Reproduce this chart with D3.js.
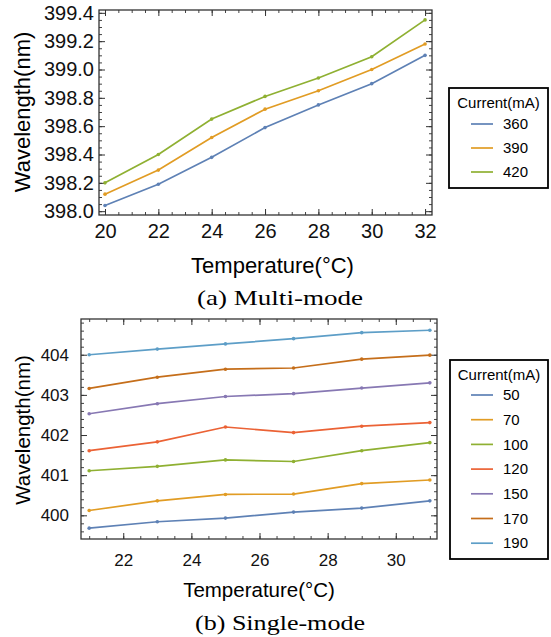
<!DOCTYPE html>
<html>
<head>
<meta charset="utf-8">
<script src="https://cdn.jsdelivr.net/npm/d3@7"></script>
<style>
  body { margin: 0; background: #fff; }
  svg { display: block; }
  .tick text { font-family: "Liberation Sans", Arial, sans-serif; fill: #111; }
</style>
</head>
<body>
<script>
// ---- panel (a) multi-mode ----
var tempsA = [20, 22, 24, 26, 28, 30, 32];
var currentsA = ["360", "390", "420"];
var wl360 = [398.04, 398.19, 398.38, 398.59, 398.75, 398.90, 399.10];
var wl390 = [398.12, 398.29, 398.52, 398.72, 398.85, 399.00, 399.18];
var wl420 = [398.20, 398.40, 398.65, 398.81, 398.94, 399.09, 399.35];
var yTicksA = [398.0, 398.2, 398.4, 398.6, 398.8, 399.0, 399.2, 399.4];
var xTicksA = [20, 22, 24, 26, 28, 30, 32];

// ---- panel (b) single-mode ----
var tempsB = [21, 23, 25, 27, 29, 31];
var currentsB = ["50", "70", "100", "120", "150", "170", "190"];
var wl50  = [399.68, 399.84, 399.93, 400.08, 400.18, 400.36];
var wl70  = [400.12, 400.36, 400.52, 400.53, 400.79, 400.88];
var wl100 = [401.11, 401.22, 401.38, 401.34, 401.61, 401.81];
var wl120 = [401.61, 401.83, 402.20, 402.06, 402.22, 402.31];
var wl150 = [402.53, 402.78, 402.96, 403.03, 403.17, 403.30];
var wl170 = [403.16, 403.44, 403.64, 403.67, 403.89, 403.99];
var wl190 = [404.00, 404.14, 404.27, 404.40, 404.55, 404.61];
var yTicksB = [400, 401, 402, 403, 404];
var xTicksB = [22, 24, 26, 28, 30];

var palette = ["#5E81B5", "#E19C24", "#8FB032", "#EB6235", "#8778B3", "#C56E1A", "#5D9EC7"];

var svg = d3.select("body").append("svg")
    .attr("width", 551)
    .attr("height", 637);

function range(a, b, step) {
  var out = [];
  for (var v = a; v <= b + 1e-9; v += step) out.push(+v.toFixed(4));
  return out;
}

function panel(opt) {
  var x = d3.scaleLinear().domain(opt.xDomain).range([opt.left, opt.right]);
  var y = d3.scaleLinear().domain(opt.yDomain).range([opt.bottom, opt.top]);
  var g = svg.append("g");
  var w = opt.right - opt.left, h = opt.bottom - opt.top;

  var xMinor = range(opt.xMinorStart, opt.xDomain[1], opt.xMinorStep);
  var yMinor = range(opt.yMinorStart, opt.yDomain[1], opt.yMinorStep);

  // minor ticks, all four sides, pointing inward
  var minors = [
    [d3.axisBottom(x).tickValues(xMinor), "translate(0," + opt.bottom + ")"],
    [d3.axisTop(x).tickValues(xMinor), "translate(0," + opt.top + ")"],
    [d3.axisLeft(y).tickValues(yMinor), "translate(" + opt.left + ",0)"],
    [d3.axisRight(y).tickValues(yMinor), "translate(" + opt.right + ",0)"]
  ];
  minors.forEach(function(m) {
    g.append("g").attr("transform", m[1])
      .call(m[0].tickSize(-3).tickFormat(""))
      .call(function(s) { s.select(".domain").remove(); s.selectAll("line").attr("stroke", "#444"); });
  });

  // major ticks with labels
  g.append("g").attr("transform", "translate(0," + opt.bottom + ")")
    .call(d3.axisBottom(x).tickValues(opt.xTicks).tickSize(-6).tickPadding(opt.xPad)
      .tickFormat(d3.format("d")))
    .call(function(s) {
      s.select(".domain").remove();
      s.selectAll("line").attr("stroke", "#333");
      s.selectAll("text").style("font-size", opt.tickFont + "px");
    });
  g.append("g").attr("transform", "translate(0," + opt.top + ")")
    .call(d3.axisTop(x).tickValues(opt.xTicks).tickSize(-6).tickFormat(""))
    .call(function(s) { s.select(".domain").remove(); s.selectAll("line").attr("stroke", "#333"); });
  g.append("g").attr("transform", "translate(" + opt.left + ",0)")
    .call(d3.axisLeft(y).tickValues(opt.yTicks).tickSize(-6).tickPadding(opt.yPad)
      .tickFormat(d3.format(opt.yFormat)))
    .call(function(s) {
      s.select(".domain").remove();
      s.selectAll("line").attr("stroke", "#333");
      s.selectAll("text").style("font-size", opt.tickFont + "px");
    });
  g.append("g").attr("transform", "translate(" + opt.right + ",0)")
    .call(d3.axisRight(y).tickValues(opt.yTicks).tickSize(-6).tickFormat(""))
    .call(function(s) { s.select(".domain").remove(); s.selectAll("line").attr("stroke", "#333"); });

  // frame
  g.append("rect")
    .attr("x", opt.left).attr("y", opt.top)
    .attr("width", w).attr("height", h)
    .attr("fill", "none").attr("stroke", "#333").attr("stroke-width", 1.3);

  // series
  var line = d3.line()
    .x(function(d) { return x(d[0]); })
    .y(function(d) { return y(d[1]); });

  opt.series.forEach(function(vals, i) {
    var pts = opt.temps.map(function(t, j) { return [t, vals[j]]; });
    g.append("path")
      .datum(pts)
      .attr("fill", "none")
      .attr("stroke", palette[i])
      .attr("stroke-width", 1.7)
      .attr("d", line);
    g.selectAll(null).data(pts).enter().append("circle")
      .attr("cx", function(d) { return x(d[0]); })
      .attr("cy", function(d) { return y(d[1]); })
      .attr("r", 1.8)
      .attr("fill", palette[i]);
  });

  // axis labels
  g.append("text")
    .attr("x", (opt.left + opt.right) / 2 + opt.xLabelShift)
    .attr("y", opt.xLabelY)
    .attr("text-anchor", "middle")
    .style("font-family", "Liberation Sans, Arial, sans-serif")
    .style("font-size", opt.labelFont + "px")
    .text("Temperature(°C)");
  g.append("text")
    .attr("transform", "translate(" + opt.yLabelX + "," + opt.yLabelY + ") rotate(-90)")
    .attr("text-anchor", "middle")
    .style("font-family", "Liberation Sans, Arial, sans-serif")
    .style("font-size", opt.labelFont + "px")
    .text("Wavelength(nm)");

  // caption
  g.append("text")
    .attr("x", opt.capX).attr("y", opt.capY)
    .attr("text-anchor", "middle")
    .attr("textLength", opt.capW)
    .attr("lengthAdjust", "spacingAndGlyphs")
    .style("font-family", "Liberation Serif, Times New Roman, serif")
    .style("font-size", "22px")
    .text(opt.caption);

  // legend
  var L = opt.legend;
  g.append("rect")
    .attr("x", L.x).attr("y", L.y).attr("width", L.w).attr("height", L.h)
    .attr("fill", "#fff").attr("stroke", "#000").attr("stroke-width", 1.8);
  g.append("text")
    .attr("x", L.x + L.w / 2).attr("y", L.titleY)
    .attr("text-anchor", "middle")
    .style("font-family", "Liberation Sans, Arial, sans-serif")
    .style("font-size", "15px")
    .text("Current(mA)");
  var rows = g.selectAll(null).data(opt.names).enter().append("g")
    .attr("transform", function(d, i) { return "translate(0," + (L.row0 + i * L.rowStep) + ")"; });
  rows.append("line")
    .attr("x1", 471).attr("x2", 493)
    .attr("stroke", function(d, i) { return palette[i]; })
    .attr("stroke-width", 1.7);
  rows.append("text")
    .attr("x", 503).attr("dy", "0.35em")
    .style("font-family", "Liberation Sans, Arial, sans-serif")
    .style("font-size", "15px")
    .text(function(d) { return d; });
}

panel({
  left: 99, right: 432, top: 10, bottom: 215,
  xDomain: [19.775, 32.26], yDomain: [397.973, 399.42],
  xTicks: xTicksA, yTicks: yTicksA, yFormat: ".1f",
  xMinorStart: 20, xMinorStep: 0.5, yMinorStart: 398.0, yMinorStep: 0.05,
  tickFont: 20, xPad: 9, yPad: 5, labelFont: 22,
  xLabelY: 273, xLabelShift: 7, yLabelX: 30, yLabelY: 112,
  temps: tempsA, series: [wl360, wl390, wl420], names: currentsA,
  caption: "(a) Multi-mode", capX: 280, capY: 305, capW: 166,
  legend: { x: 449, y: 88, w: 99, h: 100, titleY: 108, row0: 124, rowStep: 24 }
});

panel({
  left: 81, right: 437, top: 319, bottom: 539,
  xDomain: [20.76, 31.21], yDomain: [399.41, 404.89],
  xTicks: xTicksB, yTicks: yTicksB, yFormat: "d",
  xMinorStart: 21, xMinorStep: 0.5, yMinorStart: 399.6, yMinorStep: 0.2,
  tickFont: 17, xPad: 15, yPad: 12, labelFont: 20.5,
  xLabelY: 597, xLabelShift: 0, yLabelX: 30, yLabelY: 430,
  temps: tempsB, series: [wl50, wl70, wl100, wl120, wl150, wl170, wl190], names: currentsB,
  caption: "(b) Single-mode", capX: 280, capY: 630, capW: 170,
  legend: { x: 450, y: 360, w: 98, h: 199, titleY: 380, row0: 395, rowStep: 24.7 }
});
</script>
</body>
</html>
